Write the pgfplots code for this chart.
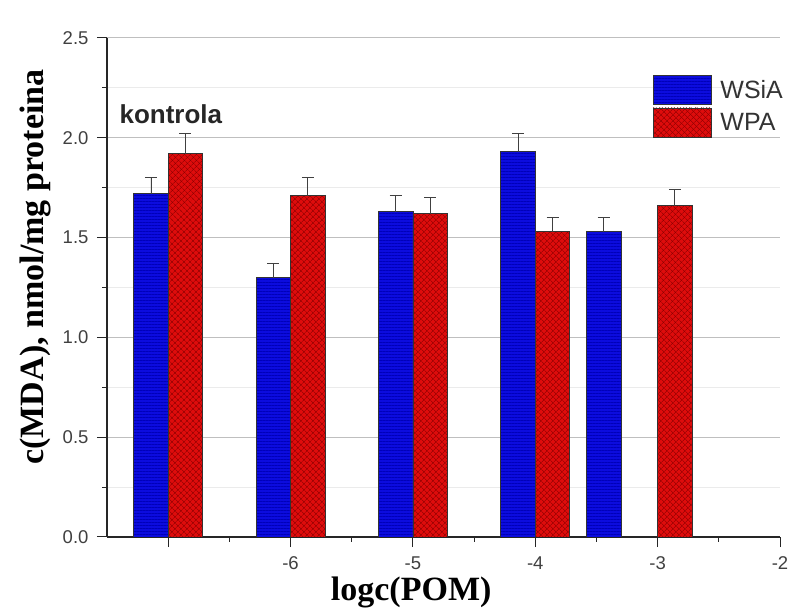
\documentclass[border=0pt]{standalone}
\usepackage{pgfplots}
\pgfplotsset{compat=1.18}
\usepackage{fontspec}
\setmainfont{Liberation Sans}
\newfontfamily\serifbf{Liberation Serif}
\usetikzlibrary{patterns.meta}

\definecolor{barblue}{RGB}{12,12,222}
\definecolor{barblueline}{RGB}{0,0,185}
\definecolor{barred}{RGB}{222,12,12}
\definecolor{barredline}{RGB}{135,0,0}

% WSiA series: x, MDA level, SD
\pgfplotstableread{
x     y     e
-7    1.72  0.08
-6    1.30  0.07
-5    1.63  0.08
-4    1.93  0.09
-3.3  1.53  0.07
}\wsia

% WPA series: x, MDA level, SD
\pgfplotstableread{
x     y     e
-7    1.92  0.10
-6    1.71  0.09
-5    1.62  0.08
-4    1.53  0.07
-3    1.66  0.08
}\wpa

\begin{document}
\begin{tikzpicture}
\path[use as bounding box] (-107pt,-72pt) rectangle (682pt,537pt);
\begin{axis}[
  at={(0pt,0pt)}, anchor=south west,
  scale only axis, width=673pt, height=499pt,
  xmin=-7.5, xmax=-2, ymin=0, ymax=2.5,
  axis lines*=left,
  axis line style={black!85, line width=1.1pt},
  tick align=outside,
  major tick length=10pt, minor tick length=5pt,
  tick style={black!85, line width=1pt},
  xtick={-7,-6,-5,-4,-3,-2},
  xticklabels={,-6,-5,-4,-3,-2},
  minor x tick num=1,
  ytick={0,0.5,1,1.5,2,2.5},
  minor y tick num=1,
  ymajorgrids, yminorgrids,
  major grid style={black!25, line width=1pt},
  minor grid style={black!8, line width=0.8pt},
  /pgf/number format/assume math mode=true,
  tick label style={font=\fontsize{18.5}{20}\selectfont, text=black!75},
  yticklabel style={xshift=-5pt, /pgf/number format/.cd, fixed, fixed zerofill, precision=1},
  xticklabel style={yshift=-6pt},
  xlabel={logc(POM)},
  xlabel style={font=\serifbf\bfseries\fontsize{34}{36}\selectfont,
    at={(rel axis cs:0.452,0)}, anchor=base, yshift=-64pt},
  ylabel={c(MDA), nmol/mg proteina},
  ylabel style={font=\serifbf\bfseries\fontsize{34}{36}\selectfont,
    at={(rel axis cs:0,0.541)}, anchor=center, yshift=72pt},
  legend style={at={(rel axis cs:0.811,0.926)}, anchor=north west,
    draw=none, fill=none, inner sep=0pt, outer sep=0pt,
    row sep=3pt, column sep=9pt,
    font=\fontsize{25}{28}\selectfont, text=black!80,
    nodes={inner sep=0pt, text depth=0pt}},
  legend cell align=left,
  legend image code/.code={\draw[#1] (0pt,-14.5pt) rectangle (58pt,14.5pt);},
]
\addplot[ybar, bar width=34.5pt, bar shift=-17.25pt,
  fill=barblue, draw=black!80, line width=0.6pt,
  postaction={pattern={Lines[angle=0,distance=3pt,line width=0.5pt]}, pattern color=barblueline},
  error bars/.cd, y dir=plus, y explicit,
  error bar style={xshift=-17.25pt, black!75, line width=0.8pt},
  error mark options={rotate=90, mark size=6pt, black!75, line width=0.8pt}]
  table[x=x, y=y, y error=e] {\wsia};
\addlegendentry{WSiA}
\addplot[ybar, bar width=34.5pt, bar shift=17.25pt,
  fill=barred, draw=black!80, line width=0.6pt,
  postaction={pattern={Lines[angle=45,distance=4pt,line width=0.6pt]}, pattern color=barredline},
  postaction={pattern={Lines[angle=-45,distance=4pt,line width=0.6pt]}, pattern color=barredline},
  error bars/.cd, y dir=plus, y explicit,
  error bar style={xshift=17.25pt, black!75, line width=0.8pt},
  error mark options={rotate=90, mark size=6pt, black!75, line width=0.8pt}]
  table[x=x, y=y, y error=e] {\wpa};
\addlegendentry{WPA}
\node[anchor=base west, font=\bfseries\fontsize{26}{28}\selectfont, text=black!85]
  at (axis cs:-7.426,2.074) {kontrola};
\end{axis}
\end{tikzpicture}
\end{document}
